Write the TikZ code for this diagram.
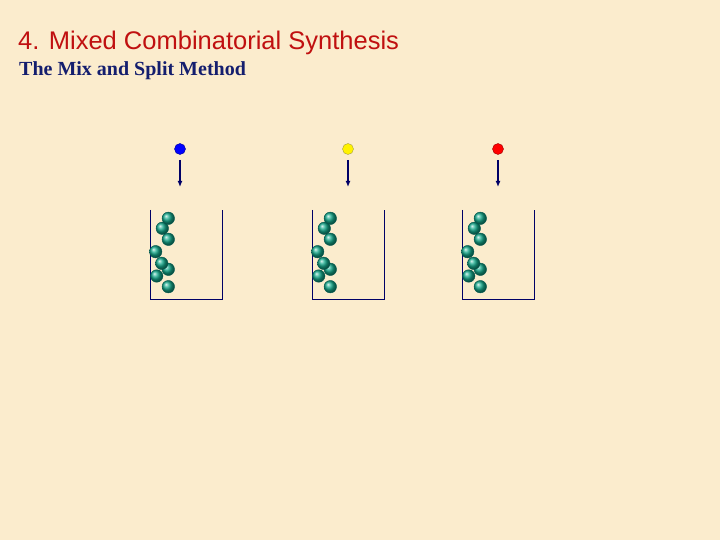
\documentclass[tikz,border=0pt]{standalone}
\usepackage{fontspec}
\usetikzlibrary{arrows.meta}
\setmainfont{Liberation Serif}
\setsansfont{Liberation Sans}
\begin{document}
\begin{tikzpicture}[x=1pt,y=-1pt,
  bead/.style={circle,draw={rgb,255:red,0;green,90;blue,80},inner sep=0,minimum size=12.5pt,ball color={rgb,255:red,20;green,170;blue,140}},
  drop/.style={circle,draw=#1!60!black,fill=#1,inner sep=0,minimum size=11pt},
  vessel/.style={draw=blue!40!black,line width=0.9pt},
  arr/.style={-{Latex[length=6pt,width=5pt]},draw=blue!40!black,line width=1.4pt}]
\fill[fill={rgb,255:red,251;green,236;blue,205}] (0,0) rectangle (720,540);
\useasboundingbox (0,0) rectangle (720,540);
\node[anchor=base west,font=\sffamily\fontsize{25.5}{30}\selectfont,text={rgb,255:red,192;green,16;blue,16},inner sep=0] (title) at (18,50) {4. Mixed Combinatorial Synthesis};
\node[anchor=base west,font=\bfseries\fontsize{20}{24}\selectfont,text={rgb,255:red,20;green,30;blue,110},inner sep=0] (sub) at (19,76) {The Mix and Split Method};
\foreach \i/\dx/\bx/\c in {1/0/180/blue, 2/162/348/yellow, 3/312/498/red}{
  \node[drop=\c] (ball\i) at (\bx,149) {};
  \coordinate (ta\i) at (\bx,160);
  \coordinate (tb\i) at (\bx,187);
  \draw[arr] (ta\i) -- (tb\i);
  \begin{scope}[xshift=\dx]
    \draw[vessel] (150.7,210) -- (150.7,299) -- (222,299) -- (222,210);
    \foreach \x/\y [count=\k] in {168.3/286.7,156.7/276,168.3/269.3,161.7/263.3,155.7/251.7,168.3/239.3,162.3/228.3,168.3/218.3}
      \node[bead] (b\i\k) at (\x,\y) {};
  \end{scope}
}
\end{tikzpicture}
\end{document}
